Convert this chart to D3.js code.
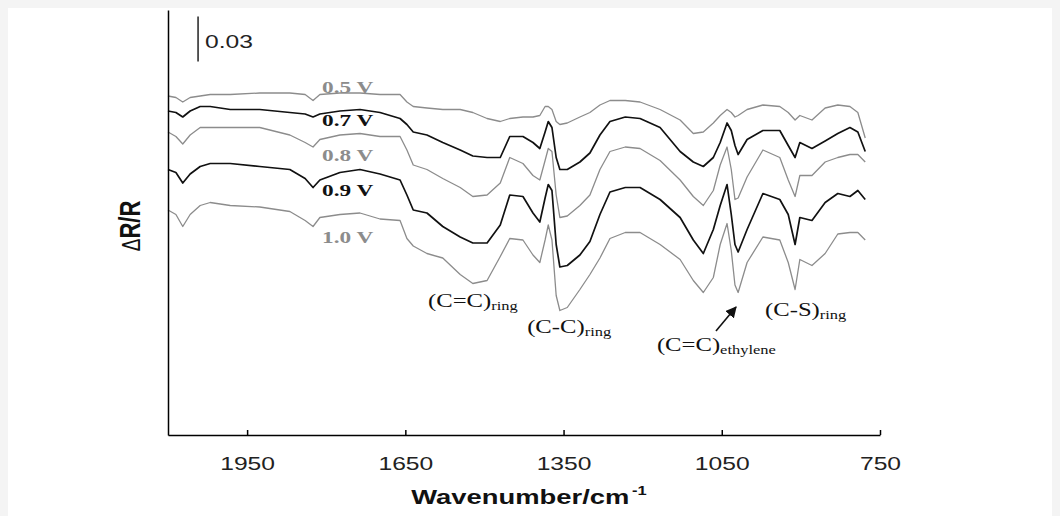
<!DOCTYPE html>
<html><head><meta charset="utf-8">
<script src="https://cdn.jsdelivr.net/npm/d3@7"></script>
<style>html,body{margin:0;padding:0;background:#f4f4f4}svg{display:block}</style>
</head><body><svg id="c" width="1060" height="516"></svg>
<script>
// wavenumber grid (cm-1)
const wavenumbers=[2100,2085,2072,2058,2039,2020,1982,1926,1869,1840,
1825,1812,1774,1736,1698,1660,1647,1635,1609,1579,
1546,1522,1495,1470,1452,1427,1408,1395,1385,1379,
1372,1364,1357,1343,1319,1300,1281,1262,1233,1205,
1167,1129,1104,1085,1066,1053,1040,1032,1025,1019,
1002,972,940,924,911,902,879,854,830,807,
792,778];
// ΔR/R (×10^-3), offset traces
const v05=[226,225,222,225,226,227,227,228,228,227,
223,227,228,228,227,227,222,219,218,217,
217,215,211,209,211,212,212,213,219,219,
217,209,207,208,212,215,220,223,223,222,
217,210,201,202,208,213,217,215,212,213,
217,220,219,215,210,213,210,218,220,219,
215,198];
const v07=[216,215,212,216,219,219,217,217,215,214,
212,214,216,217,215,211,207,202,200,195,
190,186,185,185,199,199,195,191,202,209,
205,185,177,177,182,188,200,209,212,211,
205,189,182,179,185,195,208,203,193,187,
197,203,203,193,185,195,191,196,201,205,
202,189];
const v08=[202,199,194,200,205,205,205,205,200,195,
192,197,200,201,199,199,190,180,177,171,
165,159,160,168,185,181,173,170,183,191,
189,160,145,146,153,160,177,189,192,191,
183,170,159,153,163,180,192,177,157,158,
172,190,185,170,159,173,173,182,185,187,
187,182];
const v09=[177,175,168,174,179,181,181,179,177,171,
165,170,175,177,174,170,160,150,148,139,
132,128,128,140,160,159,148,142,158,167,
163,127,112,113,120,129,147,162,165,165,
157,145,130,121,137,153,167,147,127,122,
137,161,157,147,127,145,143,155,161,159,
163,157];
const v10=[150,147,139,147,153,155,153,152,149,143,
139,145,147,148,144,143,131,126,121,118,
107,101,103,119,131,130,120,115,130,140,
130,93,83,85,97,107,118,131,135,135,
127,117,103,95,105,127,141,123,100,95,
115,132,130,115,97,117,113,121,134,135,
135,130];
const seriesLabels=["0.5 V","0.7 V","0.8 V","0.9 V","1.0 V"];
const seriesColors=["#8c8c8c","#111111","#8c8c8c","#111111","#8c8c8c"];
const labelWavenumber=1808;
const labelValues=[228,206,182.7,159.3,128];
const xTicks=[1950,1650,1350,1050,750];
const scaleBar={w:2043,base:249,size:30,text:"0.03"};
const annotations=[
 {main:"(C=C)",sub:"ring",w:1607,v:85.3},
 {main:"(C-C)",sub:"ring",w:1419,v:68},
 {main:"(C=C)",sub:"ethylene",w:1173,v:56},
 {main:"(C-S)",sub:"ring",w:968,v:79.3}
];
const arrow={w1:1061,v1:69.3,w2:1023,v2:85.3};

const SX=1.37;
const svg=d3.select("#c");
svg.append("rect").attr("x",8).attr("y",8).attr("width",1044).attr("height",508).attr("fill","#fff");
const x=d3.scaleLinear().domain([2100,750]).range([168,880]);
const y=d3.scaleLinear().domain([0,283.333]).range([435,10]);

const series=[v05,v07,v08,v09,v10];
const line=d3.line().x((d,i)=>x(wavenumbers[i])).y(d=>y(d));
svg.append("g").selectAll("path").data(series).join("path")
 .attr("d",line).attr("fill","none")
 .attr("stroke",(d,i)=>seriesColors[i])
 .attr("stroke-width",(d,i)=>i%2?1.7:1.3)
 .attr("stroke-linejoin","round");

// axes
const gx=svg.append("g").attr("transform","translate(0,435)")
 .call(d3.axisBottom(x).tickValues(xTicks).tickSizeInner(-5).tickSizeOuter(0).tickPadding(22).tickFormat(d3.format("d")));
gx.select(".domain").attr("stroke","#000").attr("stroke-width",1.5);
gx.selectAll(".tick line").attr("stroke","#000").attr("stroke-width",1.5);
gx.selectAll(".tick text").attr("font-family","Arial, 'Liberation Sans', sans-serif")
 .attr("font-size",18).attr("fill","#222").attr("transform",`scale(${SX},1)`);
const gy=svg.append("g").attr("transform","translate(168,0)")
 .call(d3.axisLeft(y).tickValues([]).tickSizeOuter(0));
gy.select(".domain").attr("stroke","#000").attr("stroke-width",1.5);

// axis titles
const xt=svg.append("text").attr("transform",`translate(529,504) scale(${SX},1)`)
 .attr("text-anchor","middle").attr("font-family","Arial, 'Liberation Sans', sans-serif")
 .attr("font-weight","bold").attr("font-size",20).attr("fill","#111");
xt.append("tspan").text("Wavenumber/cm");
xt.append("tspan").attr("font-size",12).attr("dy",-9).attr("dx",2).text("-1");
const yt=svg.append("text").attr("transform",`translate(129,226) scale(${SX},1) rotate(-90)`)
 .attr("text-anchor","middle").attr("dy","0.35em").attr("font-family","Arial, 'Liberation Sans', sans-serif")
 .attr("font-weight","bold").attr("font-size",22).attr("fill","#111");
yt.append("tspan").attr("font-weight","normal").attr("font-size",19).text("\u0394");
yt.append("tspan").text("R/R");

// scale bar
svg.append("line").attr("x1",x(scaleBar.w)).attr("x2",x(scaleBar.w))
 .attr("y1",y(scaleBar.base)).attr("y2",y(scaleBar.base+scaleBar.size))
 .attr("stroke","#222").attr("stroke-width",1.5);
svg.append("text").attr("transform",`translate(${x(scaleBar.w)+7},${y(scaleBar.base+9)}) scale(${SX},1)`)
 .attr("font-family","Arial, 'Liberation Sans', sans-serif").attr("font-size",18).attr("fill","#222").text(scaleBar.text);

// series labels
svg.append("g").selectAll("text").data(seriesLabels).join("text")
 .attr("transform",(d,i)=>`translate(${x(labelWavenumber)},${y(labelValues[i])}) scale(${SX},1)`)
 .attr("font-family","'Times New Roman','Liberation Serif',serif").attr("font-weight","bold")
 .attr("font-size",17).attr("fill",(d,i)=>seriesColors[i]).text(d=>d);

// annotations
const ag=svg.append("g").selectAll("text").data(annotations).join("text")
 .attr("transform",d=>`translate(${x(d.w)},${y(d.v)}) scale(${SX},1)`)
 .attr("font-family","'Times New Roman','Liberation Serif',serif").attr("font-size",18).attr("fill","#111");
ag.append("tspan").text(d=>d.main);
ag.append("tspan").attr("font-size",12).attr("dy",3).text(d=>d.sub);

// arrow
const defs=svg.append("defs");
defs.append("marker").attr("id","ah").attr("viewBox","0 0 10 10").attr("refX",9).attr("refY",5)
 .attr("markerWidth",7).attr("markerHeight",7).attr("orient","auto")
 .append("path").attr("d","M0,0L10,5L0,10z").attr("fill","#111");
svg.append("line").attr("x1",x(arrow.w1)).attr("y1",y(arrow.v1)).attr("x2",x(arrow.w2)).attr("y2",y(arrow.v2))
 .attr("stroke","#111").attr("stroke-width",1.6).attr("marker-end","url(#ah)");
</script></body></html>
